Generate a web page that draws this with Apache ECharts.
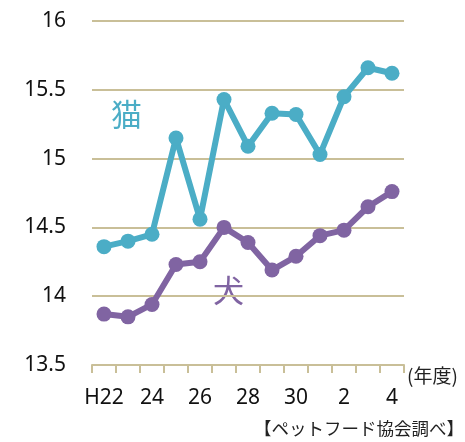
<!DOCTYPE html>
<html lang="ja">
<head>
    <meta charset="UTF-8">
    <title>犬猫の平均寿命</title>
    <script src="https://cdn.jsdelivr.net/npm/echarts@6/dist/echarts.min.js"></script>
    <style>
        html, body { margin: 0; padding: 0; background: #fff; }
        #chart { width: 465px; height: 442px; }
    </style>
</head>
<body>
    <div id="chart"></div>
    <script>
        // 年度 (H22 〜 R4)
        const years = ['H22', '23', '24', '25', '26', '27', '28', '29', '30', '元', '2', '3', '4'];
        // 平均寿命（歳）
        const catValues = [14.36, 14.40, 14.45, 15.15, 14.56, 15.43, 15.09, 15.33, 15.32, 15.03, 15.45, 15.66, 15.62];
        const dogValues = [13.87, 13.85, 13.94, 14.23, 14.25, 14.50, 14.39, 14.19, 14.29, 14.44, 14.48, 14.65, 14.76];
        const yTicks = { min: 13.5, max: 16, step: 0.5 };

        const catColor = '#4BADC6';
        const dogColor = '#8064A2';
        const gridColor = '#C9BF98';
        const numFont = '"Noto Sans", sans-serif';
        const jpFont = '"Noto Sans CJK JP", sans-serif';

        var myChart = echarts.init(document.getElementById('chart'));
        var option = {
            animation: false,
            grid: { left: 92, right: 61, top: 21, bottom: 77 },
            xAxis: {
                type: 'category',
                data: years,
                boundaryGap: true,
                axisLine: { lineStyle: { color: gridColor, width: 2 } },
                axisTick: { show: true, interval: 0, length: 8, lineStyle: { color: gridColor, width: 2 } },
                axisLabel: {
                    interval: 1,
                    margin: 23,
                    color: '#111',
                    fontSize: 21,
                    fontFamily: numFont,
                    formatter: function (v) { return v === '元' ? 'R1' : v; }
                }
            },
            yAxis: {
                type: 'value',
                min: yTicks.min,
                max: yTicks.max,
                interval: yTicks.step,
                axisLine: { show: false },
                axisTick: { show: false },
                axisLabel: { margin: 26, color: '#111', fontSize: 21, fontFamily: numFont },
                splitLine: { lineStyle: { color: gridColor, width: 2 } }
            },
            graphic: [
                { type: 'text', left: 111, top: 99, style: { text: '猫', fill: catColor, font: '31px ' + jpFont } },
                { type: 'text', left: 213, top: 275, style: { text: '犬', fill: dogColor, font: '31px ' + jpFont } },
                { type: 'text', left: 407, top: 366, style: { text: '(年度)', fill: '#222', font: '19px ' + jpFont } },
                { type: 'text', right: 1, top: 420, style: { text: '【ペットフード協会調べ】', fill: '#222', font: '17.5px ' + jpFont } }
            ],
            series: [
                {
                    name: '猫',
                    type: 'line',
                    data: catValues,
                    symbol: 'circle',
                    symbolSize: 15,
                    lineStyle: { color: catColor, width: 6 },
                    itemStyle: { color: catColor }
                },
                {
                    name: '犬',
                    type: 'line',
                    data: dogValues,
                    symbol: 'circle',
                    symbolSize: 15,
                    lineStyle: { color: dogColor, width: 6 },
                    itemStyle: { color: dogColor }
                }
            ]
        };
        myChart.setOption(option);
    </script>
</body>
</html>
